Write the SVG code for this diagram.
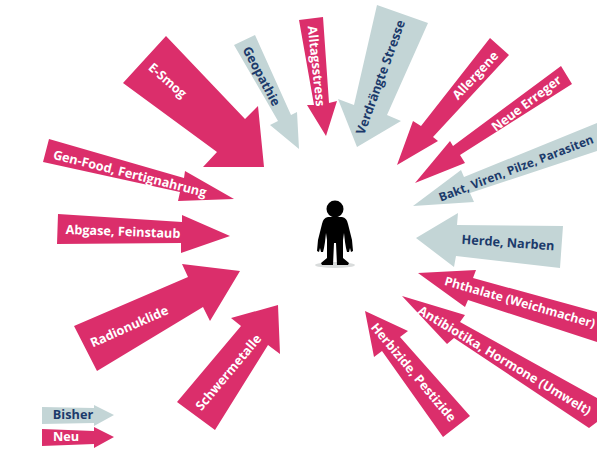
<svg xmlns="http://www.w3.org/2000/svg" width="597" height="449" viewBox="0 0 597 449">
<style>
.p{fill:#db2e6b}.g{fill:#c3d5d6}
text{font-family:"Open Sans","Noto Sans",sans-serif;font-weight:700;font-size:12.7px;text-anchor:middle;dominant-baseline:central}
.w{fill:#fff}.n{fill:#1b3a6b}.s{font-size:12.3px}.b{font-size:12px}
</style>
<rect width="597" height="449" fill="#fff"/>
<g id="e-smog"><polygon class="p" points="166,36 123,83 217,152 203,167 264,167 258,106 245,119"/><text class="w" transform="translate(168 80) rotate(41)">E-Smog</text></g>
<g id="geopathie"><polygon class="g" points="234,45 255,35 291,115 297,112 299,149 270,125 278,121"/><text class="n" transform="translate(262 76) rotate(62)">Geopathie</text></g>
<g id="alltagsstress"><polygon class="p" points="299,20 323,17 329,103 337,101 326,136 307,105 314,105"/><text class="w" transform="translate(317 66) rotate(84)">Alltagsstress</text></g>
<g id="verdraengte-stresse"><polygon class="g" points="377,5 428,23 387,115 401,121 357,147 338,99 354,105"/><text class="n" transform="translate(380 77) rotate(-70)">Verdrängte Stresse</text></g>
<g id="allergene"><polygon class="p" points="490,38 509,55 433,137 438,141 397,165 413,121 421,126"/><text class="w" transform="translate(475 75) rotate(-47)">Allergene</text></g>
<g id="neue-erreger"><polygon class="p" points="561,66 572,84 460,155 465,163 415,183 450,141 453,146"/><text class="w" transform="translate(526 103) rotate(-37)">Neue Erreger</text></g>
<g id="bakt"><polygon class="g" points="597,123 597,151 470,193 474,202 413,206 461,170 464,177"/><text class="n b" transform="translate(516 168) rotate(-21)">Bakt, Viren, Pilze, Parasiten</text></g>
<g id="herde"><polygon class="g" points="563,226 560,268 456,256 454,267 416,238 458,213 457,225"/><text class="n" transform="translate(508 242) rotate(4)">Herde, Narben</text></g>
<g id="phthalate"><polygon class="p" points="418,273 476,270 473,278 597,312 597,342 468,300 465,307"/><text class="w s" transform="translate(520 302) rotate(16)">Phthalate (Weichmacher)</text></g>
<g id="antibiotika"><polygon class="p" points="402,296 465,315 460,322 597,398 597,422 589,428 454,338 447,344"/><text class="w" transform="translate(505 360) rotate(31)">Antibiotika, Hormone (Umwelt)</text></g>
<g id="herbizide"><polygon class="p" points="365,311 408,331 400,337 470,416 443,437 382,351 374,357"/><text class="w" transform="translate(414 372) rotate(50)">Herbizide, Pestizide</text></g>
<g id="schwermetalle"><polygon class="p" points="278,305 280,354 268,345 215,430 177,402 241,326 231,318"/><text class="w" transform="translate(228 372) rotate(-50)">Schwermetalle</text></g>
<g id="radionuklide"><polygon class="p" points="182,264 240,271 210,321 203,307 97,371 74,326 188,277"/><text class="w" transform="translate(129 326) rotate(-24)">Radionuklide</text></g>
<g id="abgase"><polygon class="p" points="58,214 182,222 182,215 230,236 181,253 181,243 57,244"/><text class="w" transform="translate(123 231) rotate(2)">Abgase, Feinstaub</text></g>
<g id="gen-food"><polygon class="p" points="49,139 184,178 185,171 234,199 178,201 180,192 43,162"/><text class="w" transform="translate(130 173) rotate(14)">Gen-Food, Fertignahrung</text></g>
<g id="person">
<ellipse cx="335" cy="265" rx="20" ry="3" fill="#d9dcdc"/>
<circle cx="335" cy="209" r="8.5"/>
<path d="M328 217H342Q347 218 348 224L352 240 353 251 351 252 350 248 349 252 347 252 346 248 345 242 344 233 343 240 343 258 349 263 348 265H337L336 243H334L333 265H322L321 263 327 258 327 240 326 233 325 242 324 248 323 252 321 252 320 248 319 252 317 251 318 240 322 224Q323 218 328 217Z"/>
</g>
<g id="legend-bisher"><polygon class="g" points="42,407 94,408 94,405 114,415 94,426 94,423 42,424"/><text class="n" transform="translate(73 414)">Bisher</text></g>
<g id="legend-neu"><polygon class="p" points="42,429 94,431 94,427 114,437 94,448 94,444 42,446"/><text class="w" transform="translate(66 436)">Neu</text></g>
</svg>
